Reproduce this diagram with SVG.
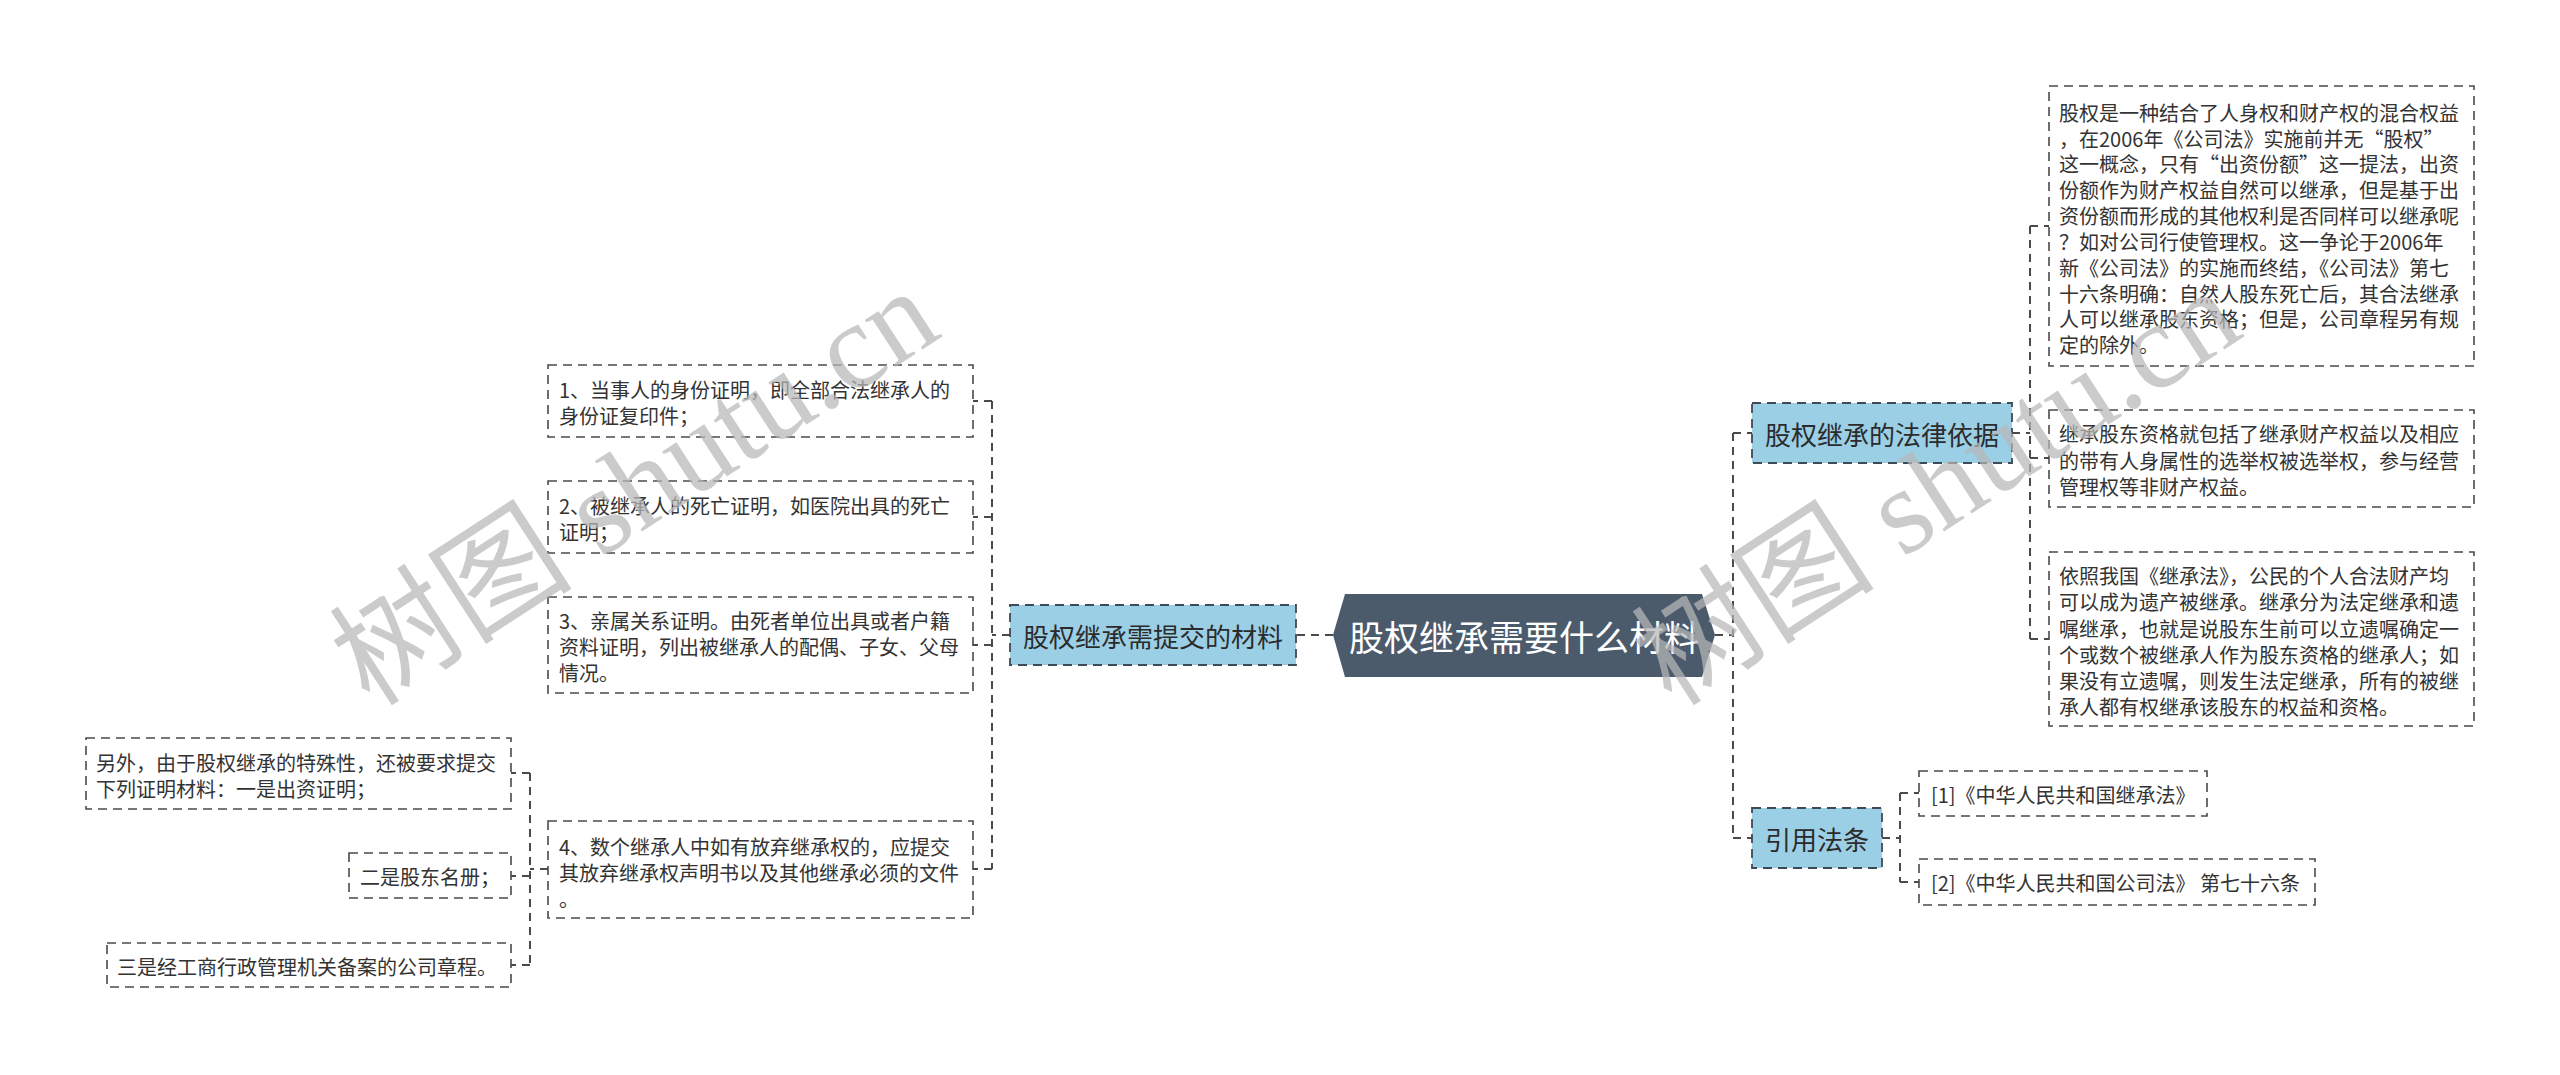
<svg xmlns="http://www.w3.org/2000/svg" width="2560" height="1075" viewBox="0 0 2560 1075">
<style>
.bg{fill:#ffffff}
.box{fill:#ffffff;stroke:#4a4a4a;stroke-width:1.6;stroke-dasharray:9 6}
.sub{fill:#9bcfe6;stroke:#3e4a55;stroke-width:1.8;stroke-dasharray:9 6}
.root{fill:#4b5b6c}
.t{font-family:"Noto Sans CJK SC","Liberation Sans",sans-serif;font-size:20px;fill:#333333;dominant-baseline:central}
.ts{font-family:"Noto Sans CJK SC","Liberation Sans",sans-serif;font-size:26px;fill:#2b2b2b;dominant-baseline:central;text-anchor:middle}
.tr{font-family:"Noto Sans CJK SC","Liberation Sans",sans-serif;font-size:35px;fill:#ffffff;dominant-baseline:central;text-anchor:middle}
.c{fill:none;stroke:#4a4a4a;stroke-width:2;stroke-dasharray:8 6}
.wm{font-family:"Liberation Serif","Noto Sans CJK SC",serif;font-size:122px;fill:#b8b8b8;opacity:0.72}
</style>
<rect class="bg" x="0" y="0" width="2560" height="1075"/>

<g id="connectors">
  <path class="c" d="M1333 635 H1296"/>
  <path class="c" d="M1010 635 H992"/>
  <path class="c" d="M992 401 V869"/>
  <path class="c" d="M992 401 H973"/>
  <path class="c" d="M992 517 H973"/>
  <path class="c" d="M992 645 H973"/>
  <path class="c" d="M992 869 H973"/>
  <path class="c" d="M548 869 H530"/>
  <path class="c" d="M530 773 V965"/>
  <path class="c" d="M530 773 H511"/>
  <path class="c" d="M530 876 H511"/>
  <path class="c" d="M530 965 H511"/>
  <path class="c" d="M1715 635 H1733"/>
  <path class="c" d="M1733 433 V838"/>
  <path class="c" d="M1733 433 H1752"/>
  <path class="c" d="M1733 838 H1752"/>
  <path class="c" d="M2012 433 H2030"/>
  <path class="c" d="M2030 226 V639"/>
  <path class="c" d="M2030 226 H2049"/>
  <path class="c" d="M2030 458 H2049"/>
  <path class="c" d="M2030 639 H2049"/>
  <path class="c" d="M1882 838 H1900"/>
  <path class="c" d="M1900 793 V882"/>
  <path class="c" d="M1900 793 H1919"/>
  <path class="c" d="M1900 882 H1919"/>
</g>

<g id="root">
  <polygon class="root" points="1333,635 1345,594 1702,594 1715,635 1702,677 1345,677"/>
  <text class="tr" x="1524" y="635">股权继承需要什么材料</text>
</g>

<g id="materials">
  <rect class="sub" x="1010" y="605" width="286" height="60"/>
  <text class="ts" x="1153" y="635">股权继承需提交的材料</text>
</g>

<g id="item1">
  <rect class="box" x="548" y="365" width="425" height="72"/>
  <text class="t" x="559" y="389">1、当事人的身份证明，即全部合法继承人的</text>
  <text class="t" x="559" y="415">身份证复印件；</text>
</g>

<g id="item2">
  <rect class="box" x="548" y="481" width="425" height="72"/>
  <text class="t" x="559" y="505">2、被继承人的死亡证明，如医院出具的死亡</text>
  <text class="t" x="559" y="531">证明；</text>
</g>

<g id="item3">
  <rect class="box" x="548" y="597" width="425" height="96"/>
  <text class="t" x="559" y="620">3、亲属关系证明。由死者单位出具或者户籍</text>
  <text class="t" x="559" y="646">资料证明，列出被继承人的配偶、子女、父母</text>
  <text class="t" x="559" y="672">情况。</text>
</g>

<g id="item4">
  <rect class="box" x="548" y="821" width="425" height="97"/>
  <text class="t" x="559" y="846">4、数个继承人中如有放弃继承权的，应提交</text>
  <text class="t" x="559" y="872">其放弃继承权声明书以及其他继承必须的文件</text>
  <text class="t" x="559" y="898">。</text>
</g>

<g id="extra1">
  <rect class="box" x="86" y="738" width="425" height="71"/>
  <text class="t" x="96" y="762">另外，由于股权继承的特殊性，还被要求提交</text>
  <text class="t" x="96" y="788">下列证明材料：一是出资证明；</text>
</g>

<g id="extra2">
  <rect class="box" x="349" y="853" width="162" height="45"/>
  <text class="t" x="360" y="876">二是股东名册；</text>
</g>

<g id="extra3">
  <rect class="box" x="107" y="943" width="404" height="44"/>
  <text class="t" x="117" y="966">三是经工商行政管理机关备案的公司章程。</text>
</g>

<g id="law">
  <rect class="sub" x="1752" y="403" width="260" height="60"/>
  <text class="ts" x="1882" y="433">股权继承的法律依据</text>
</g>

<g id="law1">
  <rect class="box" x="2049" y="86" width="425" height="280"/>
  <text class="t" x="2059" y="112">股权是一种结合了人身权和财产权的混合权益</text>
  <text class="t" x="2059" y="138">，在2006年《公司法》实施前并无“股权”</text>
  <text class="t" x="2059" y="163">这一概念，只有“出资份额”这一提法，出资</text>
  <text class="t" x="2059" y="189">份额作为财产权益自然可以继承，但是基于出</text>
  <text class="t" x="2059" y="215">资份额而形成的其他权利是否同样可以继承呢</text>
  <text class="t" x="2059" y="241">？如对公司行使管理权。这一争论于2006年</text>
  <text class="t" x="2059" y="267">新《公司法》的实施而终结，《公司法》第七</text>
  <text class="t" x="2059" y="293">十六条明确：自然人股东死亡后，其合法继承</text>
  <text class="t" x="2059" y="318">人可以继承股东资格；但是，公司章程另有规</text>
  <text class="t" x="2059" y="344">定的除外。</text>
</g>

<g id="law2">
  <rect class="box" x="2049" y="410" width="425" height="97"/>
  <text class="t" x="2059" y="433">继承股东资格就包括了继承财产权益以及相应</text>
  <text class="t" x="2059" y="460">的带有人身属性的选举权被选举权，参与经营</text>
  <text class="t" x="2059" y="486">管理权等非财产权益。</text>
</g>

<g id="law3">
  <rect class="box" x="2049" y="552" width="425" height="174"/>
  <text class="t" x="2059" y="575">依照我国《继承法》，公民的个人合法财产均</text>
  <text class="t" x="2059" y="601">可以成为遗产被继承。继承分为法定继承和遗</text>
  <text class="t" x="2059" y="628">嘱继承，也就是说股东生前可以立遗嘱确定一</text>
  <text class="t" x="2059" y="654">个或数个被继承人作为股东资格的继承人；如</text>
  <text class="t" x="2059" y="680">果没有立遗嘱，则发生法定继承，所有的被继</text>
  <text class="t" x="2059" y="706">承人都有权继承该股东的权益和资格。</text>
</g>

<g id="cite">
  <rect class="sub" x="1752" y="808" width="130" height="60"/>
  <text class="ts" x="1817" y="838">引用法条</text>
</g>

<g id="cite1">
  <rect class="box" x="1919" y="771" width="288" height="45"/>
  <text class="t" x="1931" y="794">[1]《中华人民共和国继承法》</text>
</g>

<g id="cite2">
  <rect class="box" x="1919" y="859" width="396" height="46"/>
  <text class="t" x="1931" y="882">[2]《中华人民共和国公司法》 第七十六条</text>
</g>

<g id="watermark">
  <text class="wm" x="0" y="0" transform="translate(370 708) rotate(-33)">树图 shutu.cn</text>
  <text class="wm" x="0" y="0" transform="translate(1672 708) rotate(-33)">树图 shutu.cn</text>
</g>
</svg>
